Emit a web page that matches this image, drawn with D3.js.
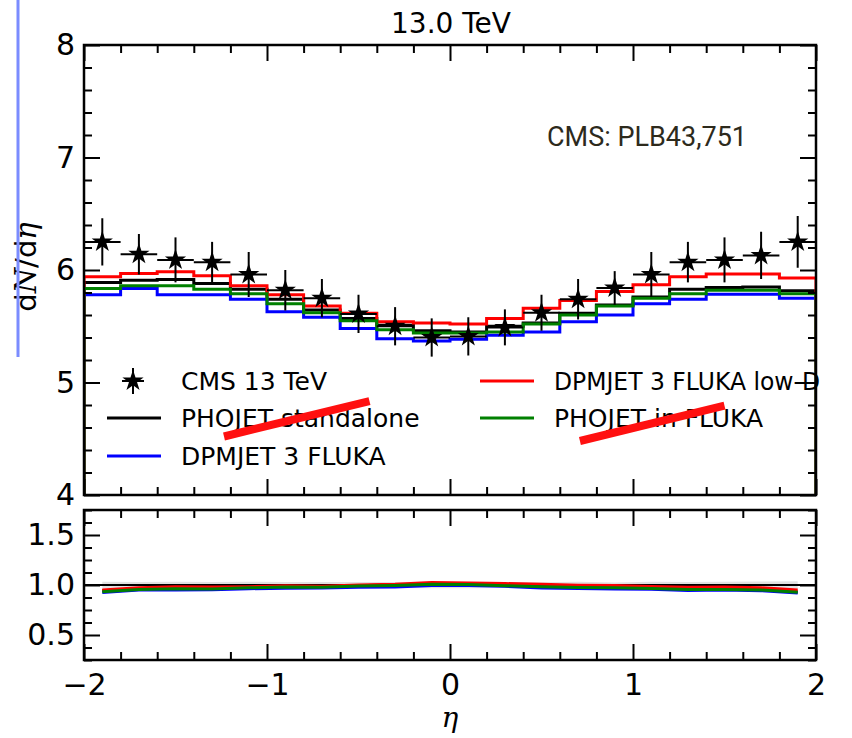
<!DOCTYPE html>
<html>
<head>
<meta charset="utf-8">
<script src="https://cdn.jsdelivr.net/npm/d3@7"></script>
<style>
  body { margin: 0; background: #fff; }
  svg { display: block; }
  .tick text { font-family: 'DejaVu Sans', sans-serif; font-size: 30px; fill: #000; }
</style>
</head>
<body>
<svg id="chart" width="852" height="738"></svg>
<script>
// bin centres in eta (bin width 0.2)
const etaCenters = [-1.9, -1.7, -1.5, -1.3, -1.1, -0.9, -0.7, -0.5, -0.3, -0.1,
  0.1, 0.3, 0.5, 0.7, 0.9, 1.1, 1.3, 1.5, 1.7, 1.9]
const binHalfWidth = 0.1

const cmsValues = [6.25, 6.14, 6.09, 6.07, 5.96, 5.82, 5.75, 5.61, 5.50, 5.40,
  5.41, 5.49, 5.62, 5.74, 5.84, 5.96, 6.07, 6.09, 6.13, 6.25]
const cmsErrors = [0.21, 0.18, 0.20, 0.18, 0.20, 0.18, 0.17, 0.17, 0.17, 0.17,
  0.17, 0.16, 0.16, 0.18, 0.15, 0.20, 0.18, 0.20, 0.21, 0.23]

const phojetStandalone = [5.89, 5.91, 5.915, 5.88, 5.83, 5.74, 5.645, 5.57, 5.51, 5.46,
  5.45, 5.50, 5.53, 5.615, 5.69, 5.76, 5.83, 5.845, 5.85, 5.815]
const dpmjetFluka = [5.78, 5.835, 5.78, 5.78, 5.74, 5.63, 5.58, 5.48, 5.39, 5.37,
  5.385, 5.42, 5.45, 5.54, 5.60, 5.70, 5.74, 5.785, 5.785, 5.75]
const dpmjetLowD = [5.94, 5.97, 5.985, 5.95, 5.86, 5.78, 5.68, 5.615, 5.54, 5.53,
  5.52, 5.57, 5.66, 5.73, 5.81, 5.87, 5.94, 5.965, 5.965, 5.93]
const phojetInFluka = [5.835, 5.86, 5.86, 5.83, 5.79, 5.70, 5.62, 5.55, 5.47, 5.44,
  5.44, 5.45, 5.52, 5.60, 5.68, 5.75, 5.79, 5.82, 5.82, 5.79]

const models = [
  { name: 'PHOJET standalone', values: phojetStandalone, color: '#000000' },
  { name: 'DPMJET 3 FLUKA', values: dpmjetFluka, color: '#0000ff' },
  { name: 'DPMJET 3 FLUKA low-D', values: dpmjetLowD, color: '#ff0000' },
  { name: 'PHOJET in FLUKA', values: phojetInFluka, color: '#008000' }
]

const xTicks = [-2, -1, 0, 1, 2]
const yTicks = [4, 5, 6, 7, 8]
const ratioTicks = [0.5, 1.0, 1.5]

// red strike-through marks drawn over the legend, in data coordinates
const strikes = [
  { x1: -1.235, y1: 4.52, x2: -0.44, y2: 4.835 },
  { x1: 0.71, y1: 4.48, x2: 1.50, y2: 4.795 }
]

const svg = d3.select('#chart')

const x = d3.scaleLinear().domain([-2, 2]).range([84, 816])
const y = d3.scaleLinear().domain([4, 8]).range([495, 45])
const yR = d3.scaleLinear().domain([0.25, 1.75]).range([660, 510])

const minorX = d3.range(-2, 2.001, 0.2).filter((v) => Math.abs(v - Math.round(v)) > 1e-6)
const minorY = d3.range(4, 8.001, 0.2).filter((v) => Math.abs(v - Math.round(v)) > 1e-6)
const minorR = d3.range(0.25, 1.751, 0.125).filter((v) => Math.abs(v * 2 - Math.round(v * 2)) > 1e-6)

svg.append('clipPath').attr('id', 'clipTop')
  .append('rect').attr('x', x(-2)).attr('y', y(8)).attr('width', x(2) - x(-2)).attr('height', y(4) - y(8))
svg.append('clipPath').attr('id', 'clipBot')
  .append('rect').attr('x', x(-2)).attr('y', yR(1.75)).attr('width', x(2) - x(-2)).attr('height', yR(0.25) - yR(1.75))

// ---------- top panel: histograms ----------
const stepPoints = (values) => {
  const pts = [[-2, 3]]
  values.forEach((v, i) => {
    pts.push([etaCenters[i] - binHalfWidth, v])
    pts.push([etaCenters[i] + binHalfWidth, v])
  })
  pts.push([2, 3])
  return pts
}

const lineTop = d3.line().x((d) => x(d[0])).y((d) => y(d[1]))

const topPanel = svg.append('g').attr('clip-path', 'url(#clipTop)')

topPanel.selectAll('.model')
  .data(models)
  .enter()
  .append('path')
  .attr('class', 'model')
  .attr('d', (d) => lineTop(stepPoints(d.values)))
  .attr('fill', 'none')
  .attr('stroke', (d) => d.color)
  .attr('stroke-width', 3)

// CMS points
const cms = etaCenters.map((e, i) => ({ eta: e, v: cmsValues[i], err: cmsErrors[i] }))

topPanel.selectAll('.xerr')
  .data(cms)
  .enter()
  .append('line')
  .attr('x1', (d) => x(d.eta - binHalfWidth))
  .attr('x2', (d) => x(d.eta + binHalfWidth))
  .attr('y1', (d) => y(d.v))
  .attr('y2', (d) => y(d.v))
  .attr('stroke', '#000')
  .attr('stroke-width', 2)

topPanel.selectAll('.yerr')
  .data(cms)
  .enter()
  .append('line')
  .attr('x1', (d) => x(d.eta))
  .attr('x2', (d) => x(d.eta))
  .attr('y1', (d) => y(d.v - d.err))
  .attr('y2', (d) => y(d.v + d.err))
  .attr('stroke', '#000')
  .attr('stroke-width', 2)

const star = d3.symbol().type(d3.symbolStar).size(140)

topPanel.selectAll('.star')
  .data(cms)
  .enter()
  .append('path')
  .attr('d', star)
  .attr('transform', (d) => `translate(${x(d.eta)},${y(d.v)})`)
  .attr('fill', '#000')

// ---------- bottom panel: ratios ----------
const botPanel = svg.append('g').attr('clip-path', 'url(#clipBot)')

const band = d3.area()
  .x((d) => x(d.eta))
  .y0((d) => yR(1 - d.err / d.v))
  .y1((d) => yR(1 + d.err / d.v))

botPanel.append('path')
  .attr('d', band(cms))
  .attr('fill', '#d9d9d9')
  .attr('opacity', 0.8)

botPanel.append('line')
  .attr('x1', x(-2)).attr('x2', x(2))
  .attr('y1', yR(1)).attr('y2', yR(1))
  .attr('stroke', '#000')
  .attr('stroke-width', 2)

const lineRatio = d3.line().x((d) => x(d[0])).y((d) => yR(d[1]))

botPanel.selectAll('.ratio')
  .data(models)
  .enter()
  .append('path')
  .attr('d', (d) => lineRatio(d.values.map((v, i) => [etaCenters[i], v / cmsValues[i]])))
  .attr('fill', 'none')
  .attr('stroke', (d) => d.color)
  .attr('stroke-width', 3)

// ---------- axes ----------
const drawAxes = (yScale, majorY, minorYs, showX, fmtY) => {
  const [y0, y1] = yScale.range()
  const g = svg.append('g')

  g.append('g').attr('transform', `translate(0,${y0})`)
    .call(d3.axisBottom(x).tickValues(xTicks).tickSize(-16).tickPadding(14).tickFormat(showX ? d3.format('d') : ''))
  g.append('g').attr('transform', `translate(0,${y0})`)
    .call(d3.axisBottom(x).tickValues(minorX).tickSize(-8).tickFormat(''))
  g.append('g').attr('transform', `translate(0,${y1})`)
    .call(d3.axisTop(x).tickValues(xTicks).tickSize(-16).tickFormat(''))
  g.append('g').attr('transform', `translate(0,${y1})`)
    .call(d3.axisTop(x).tickValues(minorX).tickSize(-8).tickFormat(''))

  g.append('g').attr('transform', `translate(${x(-2)},0)`)
    .call(d3.axisLeft(yScale).tickValues(majorY).tickSize(-16).tickPadding(9).tickFormat(fmtY))
  g.append('g').attr('transform', `translate(${x(-2)},0)`)
    .call(d3.axisLeft(yScale).tickValues(minorYs).tickSize(-8).tickFormat(''))
  g.append('g').attr('transform', `translate(${x(2)},0)`)
    .call(d3.axisRight(yScale).tickValues(majorY).tickSize(-16).tickFormat(''))
  g.append('g').attr('transform', `translate(${x(2)},0)`)
    .call(d3.axisRight(yScale).tickValues(minorYs).tickSize(-8).tickFormat(''))

  g.selectAll('.domain').remove()
  g.selectAll('.tick line').attr('stroke', '#000').attr('stroke-width', 2)

  g.append('rect')
    .attr('x', x(-2)).attr('y', y1)
    .attr('width', x(2) - x(-2)).attr('height', y0 - y1)
    .attr('fill', 'none')
    .attr('stroke', '#000')
    .attr('stroke-width', 2.5)
}

drawAxes(y, yTicks, minorY, false, d3.format('d'))
drawAxes(yR, ratioTicks, minorR, true, d3.format('.1f'))

// ---------- legend ----------
const legend = svg.append('g')
  .style('font-family', "'DejaVu Sans', sans-serif")
  .style('font-size', '25px')

const lg1 = legend.append('g').attr('transform', 'translate(133,381)')
lg1.append('line').attr('x1', -11).attr('x2', 11).attr('stroke', '#000').attr('stroke-width', 2)
lg1.append('line').attr('y1', -13).attr('y2', 13).attr('stroke', '#000').attr('stroke-width', 2)
lg1.append('path').attr('d', star).attr('fill', '#000')
legend.append('text').attr('x', 181).attr('y', 381).attr('dy', '0.35em').text('CMS 13 TeV')

const legendSlots = [
  { lx: 107, ty: 418 },
  { lx: 107, ty: 456 },
  { lx: 480, ty: 381 },
  { lx: 480, ty: 418 }
]

models.forEach((m, i) => {
  const s = legendSlots[i]
  legend.append('line')
    .attr('x1', s.lx).attr('x2', s.lx + 54)
    .attr('y1', s.ty).attr('y2', s.ty)
    .attr('stroke', m.color)
    .attr('stroke-width', 3)
  const t = legend.append('text')
    .attr('x', s.lx + 74).attr('y', s.ty).attr('dy', '0.35em')
    .text(m.name)
  // the long label is squeezed up to the frame in the original
  if (s.lx + 74 + t.node().getComputedTextLength() > 820) {
    t.attr('textLength', 820 - s.lx - 74).attr('lengthAdjust', 'spacingAndGlyphs')
  }
})

svg.selectAll('.strike')
  .data(strikes)
  .enter()
  .append('line')
  .attr('x1', (d) => x(d.x1)).attr('y1', (d) => y(d.y1))
  .attr('x2', (d) => x(d.x2)).attr('y2', (d) => y(d.y2))
  .attr('stroke', '#ff1010')
  .attr('stroke-width', 8)

// ---------- labels ----------
svg.append('text')
  .attr('x', 451).attr('y', 33)
  .attr('text-anchor', 'middle')
  .style('font-family', "'DejaVu Sans', sans-serif")
  .style('font-size', '28px')
  .text('13.0 TeV')

svg.append('text')
  .attr('x', 547).attr('y', 146)
  .style('font-family', 'Roboto, sans-serif')
  .style('font-size', '27px')
  .attr('fill', '#2d2a1c')
  .text('CMS: PLB43,751')

const yl = svg.append('text')
  .attr('transform', 'translate(36,267) rotate(-90)')
  .attr('text-anchor', 'middle')
  .style('font-family', "'DejaVu Sans', sans-serif")
  .style('font-size', '29px')
yl.append('tspan').text('d')
yl.append('tspan').style('font-family', "'DejaVu Serif', serif").style('font-style', 'italic').text('N')
yl.append('tspan').text('/d')
yl.append('tspan').style('font-family', "'DejaVu Serif', serif").style('font-style', 'italic').text('η')

svg.append('text')
  .attr('x', 450).attr('y', 727)
  .attr('text-anchor', 'middle')
  .style('font-family', "'DejaVu Serif', serif")
  .style('font-style', 'italic')
  .style('font-size', '28px')
  .text('η')

// stray blue rule at the left edge of the figure
svg.append('line')
  .attr('x1', 18).attr('x2', 18)
  .attr('y1', 0).attr('y2', 357)
  .attr('stroke', '#7b8cff')
  .attr('stroke-width', 3)
</script>
</body>
</html>
